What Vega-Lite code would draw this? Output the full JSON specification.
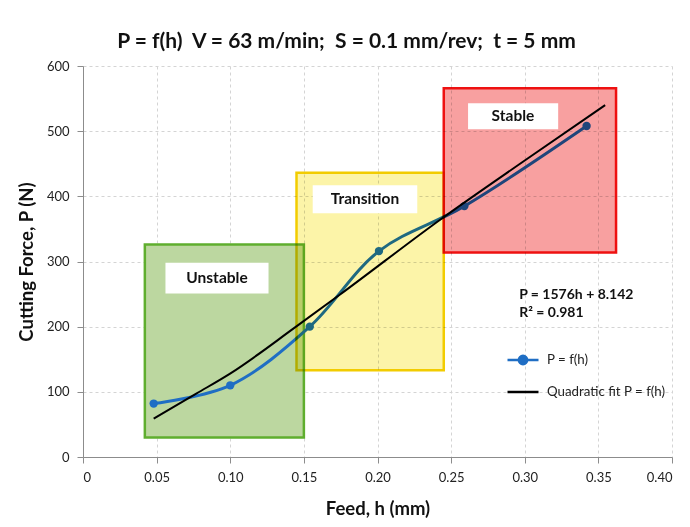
{
  "$schema": "https://vega.github.io/schema/vega-lite/v6.json",
  "width": 589,
  "height": 391,
  "autosize": {"type": "none"},
  "padding": {"left": 83, "top": 66, "right": 18, "bottom": 70},
  "background": "white",
  "config": {
    "font": "Lato",
    "view": {"stroke": null},
    "axis": {
      "gridColor": "#d4d4d4",
      "gridDash": [3, 3],
      "gridWidth": 1,
      "domainColor": "#8c8c8c",
      "tickColor": "#8c8c8c",
      "tickSize": 6,
      "labelFont": "Lato",
      "labelFontSize": 13,
      "labelColor": "#222222",
      "titleFont": "Lato",
      "titleFontSize": 18.5,
      "titleFontWeight": "bold",
      "titleColor": "#111111"
    }
  },
  "title": {
    "text": "P = f(h)\u00a0\u00a0V = 63 m/min;\u00a0\u00a0S = 0.1 mm/rev;\u00a0\u00a0t = 5 mm",
    "font": "Lato",
    "fontSize": 21,
    "fontWeight": "bold",
    "color": "#111111",
    "anchor": "middle",
    "dx": -31,
    "offset": 8
  },
  "datasets": {
    "measured": [
      {"h": 0.048, "P": 82},
      {"h": 0.100, "P": 110},
      {"h": 0.154, "P": 200},
      {"h": 0.201, "P": 316},
      {"h": 0.259, "P": 385},
      {"h": 0.342, "P": 508}
    ],
    "fit": [
      {"h": 0.048, "P": 59},
      {"h": 0.0772, "P": 97.6},
      {"h": 0.0999, "P": 128},
      {"h": 0.1447, "P": 200},
      {"h": 0.1741, "P": 248.5},
      {"h": 0.2437, "P": 366},
      {"h": 0.300, "P": 455},
      {"h": 0.3546, "P": 540}
    ],
    "regions": [
      {"region": "Unstable", "x1": 0.042, "x2": 0.150, "y1": 30, "y2": 326, "bx1": 0.056, "bx2": 0.126, "by1": 251, "by2": 298, "lx": 0.091, "ly": 274},
      {"region": "Transition", "x1": 0.145, "x2": 0.245, "y1": 133, "y2": 436, "bx1": 0.156, "bx2": 0.227, "by1": 374, "by2": 417, "lx": 0.1915, "ly": 396},
      {"region": "Stable", "x1": 0.245, "x2": 0.362, "y1": 314, "y2": 566, "bx1": 0.2615, "bx2": 0.3227, "by1": 503, "by2": 543, "lx": 0.292, "ly": 523}
    ],
    "equation": [
      {"label": "P = 1576h + 8.142", "h": 0.2962, "P": 248.5},
      {"label": "R² = 0.981", "h": 0.2962, "P": 221}
    ]
  },
  "layer": [
    {
      "data": {"name": "regions"},
      "transform": [{"filter": "datum.region === 'Unstable'"}],
      "mark": {"type": "rect", "fill": "#bcd7a0", "stroke": "#5fae2e", "strokeWidth": 2.5},
      "encoding": {
        "x": {
          "field": "x1", "type": "quantitative", "title": "Feed, h (mm)",
          "scale": {"domain": [0, 0.4], "nice": false, "zero": false},
          "axis": {
            "values": [0, 0.05, 0.1, 0.15, 0.2, 0.25, 0.3, 0.35, 0.4],
            "labelExpr": "datum.value === 0 ? '0' : format(datum.value, '.2f')",
            "labelPadding": 8,
            "titlePadding": 15
          }
        },
        "x2": {"field": "x2"},
        "y": {
          "field": "y1", "type": "quantitative", "title": "Cutting Force, P (N)",
          "scale": {"domain": [0, 600], "nice": false},
          "axis": {
            "values": [0, 100, 200, 300, 400, 500, 600],
            "labelPadding": 8,
            "titlePadding": 10
          }
        },
        "y2": {"field": "y2"}
      }
    },
    {
      "data": {"name": "measured"},
      "mark": {"type": "line", "interpolate": "catmull-rom", "strokeWidth": 3},
      "encoding": {
        "x": {"field": "h", "type": "quantitative", "title": "Feed, h (mm)"},
        "y": {"field": "P", "type": "quantitative", "title": "Cutting Force, P (N)"},
        "color": {
          "datum": "P = f(h)",
          "type": "nominal",
          "scale": {"domain": ["P = f(h)", "Quadratic fit P = f(h)"], "range": ["#1f6ec4", "#000000"]},
          "legend": {
            "title": null,
            "orient": "none",
            "legendX": 423,
            "legendY": 277,
            "padding": 0,
            "symbolType": "stroke",
            "symbolSize": 961,
            "symbolStrokeWidth": 2.5,
            "labelFont": "Lato",
            "labelFontSize": 13.3,
            "labelColor": "#222222",
            "labelOffset": 7,
            "rowPadding": 5,
            "encode": {
              "symbols": {
                "update": {
                  "shape": {"signal": "datum.value === 'P = f(h)' ? 'M-1,0L1,0M-0.27,0A0.27,0.27,0,1,0,0.27,0A0.27,0.27,0,1,0,-0.27,0Z' : 'stroke'"},
                  "fill": {"signal": "datum.value === 'P = f(h)' ? '#1f6ec4' : 'transparent'"},
                  "opacity": {"value": 1}
                }
              }
            }
          }
        }
      }
    },
    {
      "data": {"name": "measured"},
      "mark": {"type": "point", "filled": true, "size": 70, "opacity": 1},
      "encoding": {
        "x": {"field": "h", "type": "quantitative", "title": "Feed, h (mm)"},
        "y": {"field": "P", "type": "quantitative", "title": "Cutting Force, P (N)"},
        "color": {"datum": "P = f(h)", "type": "nominal"}
      }
    },
    {
      "data": {"name": "regions"},
      "transform": [{"filter": "datum.region !== 'Unstable'"}],
      "mark": {"type": "rect", "blend": "multiply", "strokeWidth": 2.5},
      "encoding": {
        "x": {"field": "x1", "type": "quantitative", "title": "Feed, h (mm)"},
        "x2": {"field": "x2"},
        "y": {"field": "y1", "type": "quantitative", "title": "Cutting Force, P (N)"},
        "y2": {"field": "y2"},
        "fill": {
          "field": "region", "type": "nominal",
          "scale": {"domain": ["Transition", "Stable"], "range": ["#fcf4a8", "#f8a0a0"]},
          "legend": null
        },
        "stroke": {
          "field": "region", "type": "nominal",
          "scale": {"domain": ["Transition", "Stable"], "range": ["#f2cc00", "#ee1111"]},
          "legend": null
        }
      }
    },
    {
      "data": {"name": "fit"},
      "mark": {"type": "line", "interpolate": "monotone", "strokeWidth": 2},
      "encoding": {
        "x": {"field": "h", "type": "quantitative", "title": "Feed, h (mm)"},
        "y": {"field": "P", "type": "quantitative", "title": "Cutting Force, P (N)"},
        "color": {"datum": "Quadratic fit P = f(h)", "type": "nominal"}
      }
    },
    {
      "data": {"name": "regions"},
      "mark": {"type": "rect", "fill": "white"},
      "encoding": {
        "x": {"field": "bx1", "type": "quantitative", "title": "Feed, h (mm)"},
        "x2": {"field": "bx2"},
        "y": {"field": "by1", "type": "quantitative", "title": "Cutting Force, P (N)"},
        "y2": {"field": "by2"}
      }
    },
    {
      "data": {"name": "regions"},
      "mark": {"type": "text", "font": "Lato", "fontSize": 15.5, "fontWeight": "bold", "color": "#111111", "align": "center", "baseline": "middle"},
      "encoding": {
        "x": {"field": "lx", "type": "quantitative", "title": "Feed, h (mm)"},
        "y": {"field": "ly", "type": "quantitative", "title": "Cutting Force, P (N)"},
        "text": {"field": "region"}
      }
    },
    {
      "data": {"name": "equation"},
      "mark": {"type": "text", "font": "Lato", "fontSize": 14, "fontWeight": "bold", "color": "#111111", "align": "left", "baseline": "middle"},
      "encoding": {
        "x": {"field": "h", "type": "quantitative", "title": "Feed, h (mm)"},
        "y": {"field": "P", "type": "quantitative", "title": "Cutting Force, P (N)"},
        "text": {"field": "label"}
      }
    }
  ]
}
